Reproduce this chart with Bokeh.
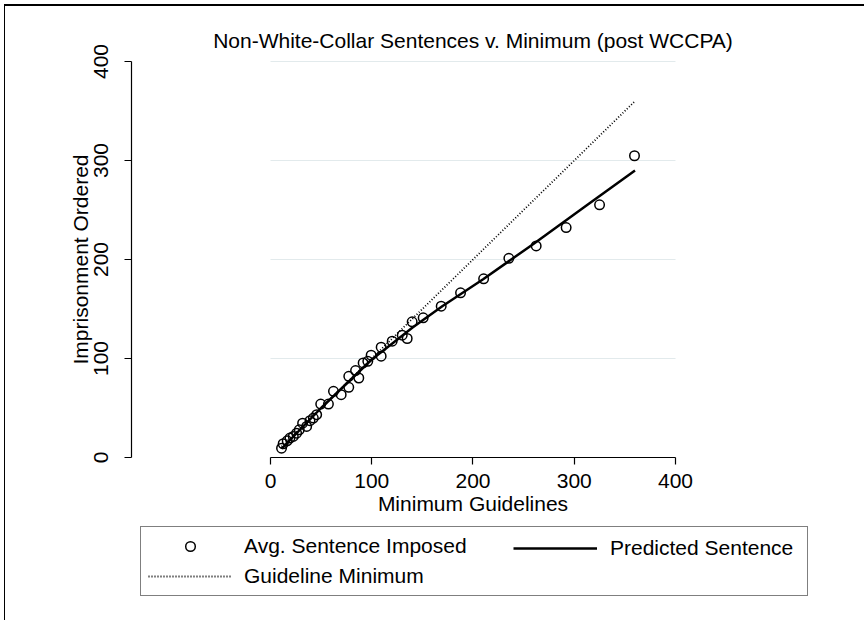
from bokeh.plotting import figure
from bokeh.models import Range1d, FixedTicker, Legend, LegendItem, Label
from bokeh.embed import file_html
from bokeh.resources import INLINE

title_text = "Non-White-Collar Sentences v. Minimum (post WCCPA)"
x_label = "Minimum Guidelines"
y_label = "Imprisonment Ordered"
tick_values = [0, 100, 200, 300, 400]
grid_values = [100, 200, 300, 400]

avg_x = [10.9, 12.5, 16.5, 19.2, 22.5, 25.8, 28.4, 31.7, 35.7, 39.0, 42.3, 45.6,
         49.6, 57.2, 62.2, 69.8, 77.3, 77.3, 84.0, 87.2, 91.5, 96.1, 99.4, 109.3,
         109.3, 120.2, 130.1, 135.0, 139.9, 150.8, 168.6, 187.7, 210.5, 235.4,
         262.4, 292.0, 325.0, 359.5]
avg_y = [9.4, 13.9, 16.9, 19.6, 21.3, 24.6, 28.0, 34.7, 31.4, 37.2, 39.8, 43.2,
         54.0, 54.0, 66.8, 63.5, 70.9, 82.0, 87.8, 80.3, 95.5, 97.2, 103.3, 111.4,
         102.3, 117.5, 123.5, 120.2, 137.0, 141.1, 152.9, 166.4, 180.5, 201.2,
         213.7, 232.2, 255.2, 304.8]

pred_x = [11, 50, 100, 120, 140, 170, 210, 260, 310, 360]
pred_y = [9, 50, 99, 115, 131, 153, 180, 216, 253, 290]

guide_x = [min(avg_x), max(avg_x)]
guide_y = [min(avg_x), max(avg_x)]

legend_labels = ["Avg. Sentence Imposed", "Predicted Sentence", "Guideline Minimum"]

FONT = "Liberation Sans"
FS = "21px"

X0, X1 = -259.75, 585.68
Y0, Y1 = -164.65, 453.54
YAXIS_AT = -137.28
p = figure(width=860, height=616, output_backend="svg", toolbar_location=None,
           x_range=Range1d(X0, X1), y_range=Range1d(Y0, Y1),
           min_border_left=2, min_border_right=2, min_border_top=2,
           min_border_bottom=2)
p.styles = {"margin-left": "4px", "margin-top": "4px",
            "border-left": "1px solid black", "border-top": "2px solid black"}
p.outline_line_color = None
p.background_fill_color = "white"
p.border_fill_color = "white"

for ax in (p.xaxis[0], p.yaxis[0]):
    ax.bounds = (tick_values[0], tick_values[-1])
    ax.ticker = FixedTicker(ticks=tick_values)
    ax.major_tick_in = 0
    ax.major_tick_out = 7
    ax.minor_tick_in = 0
    ax.minor_tick_out = 0
    ax.axis_line_color = "black"
    ax.axis_line_width = 1.2
    ax.major_tick_line_color = "black"
    ax.major_tick_line_width = 1.2
    ax.major_label_text_font = FONT
    ax.major_label_text_font_size = FS
    ax.major_label_text_color = "black"
    ax.axis_label_text_font = FONT
    ax.axis_label_text_font_size = FS
    ax.axis_label_text_font_style = "normal"
    ax.axis_label_text_color = "black"

p.xaxis.fixed_location = 0
p.yaxis.fixed_location = YAXIS_AT
p.xaxis.axis_label = x_label
p.yaxis.axis_label = y_label
p.xaxis.major_label_standoff = 10
p.xaxis.axis_label_standoff = 0
p.yaxis.major_label_orientation = "vertical"
p.yaxis.major_label_standoff = 16
p.yaxis.axis_label_standoff = 0

p.xgrid.visible = False
g = p.ygrid[0]
g.ticker = FixedTicker(ticks=grid_values)
g.grid_line_color = "#e2eaec"
g.grid_line_width = 1.2
if hasattr(g, "cross_bounds"):
    g.cross_bounds = (tick_values[0], tick_values[-1])

# chart title, centred over the plot region, just above its top
title = Label(x=(tick_values[0] + tick_values[-1]) / 2, y=tick_values[-1],
              y_offset=21, text=title_text, text_align="center",
              text_baseline="middle", text_font=FONT, text_font_size=FS,
              text_color="black")
p.add_layout(title)

r_guide = p.line(guide_x, guide_y, line_color="black", line_width=1.8,
                 line_dash="1 2")
r_pred = p.line(pred_x, pred_y, line_color="black", line_width=2.5)
r_avg = p.scatter(avg_x, avg_y, marker="circle", size=9.5, fill_color=None,
                  line_color="black", line_width=1.5)

common = dict(margin=0, padding=7, spacing=6, glyph_width=84, glyph_height=24,
              label_height=24, label_text_font=FONT, label_text_font_size=FS,
              label_text_color="black")

leg1 = Legend(items=[LegendItem(label=legend_labels[0], renderers=[r_avg]),
                     LegendItem(label=legend_labels[2], renderers=[r_guide])],
              location=(133, 24), orientation="vertical", label_width=556,
              label_standoff=12, border_line_color="black", border_line_width=1.5,
              background_fill_color="white", background_fill_alpha=1.0, **common)
leg2 = Legend(items=[LegendItem(label=legend_labels[1], renderers=[r_pred])],
              location=(506, 60), orientation="vertical", label_standoff=13,
              border_line_color=None, background_fill_alpha=0.0, **common)
p.add_layout(leg1)
p.add_layout(leg2)

open("out.html", "w").write(file_html(p, INLINE))
